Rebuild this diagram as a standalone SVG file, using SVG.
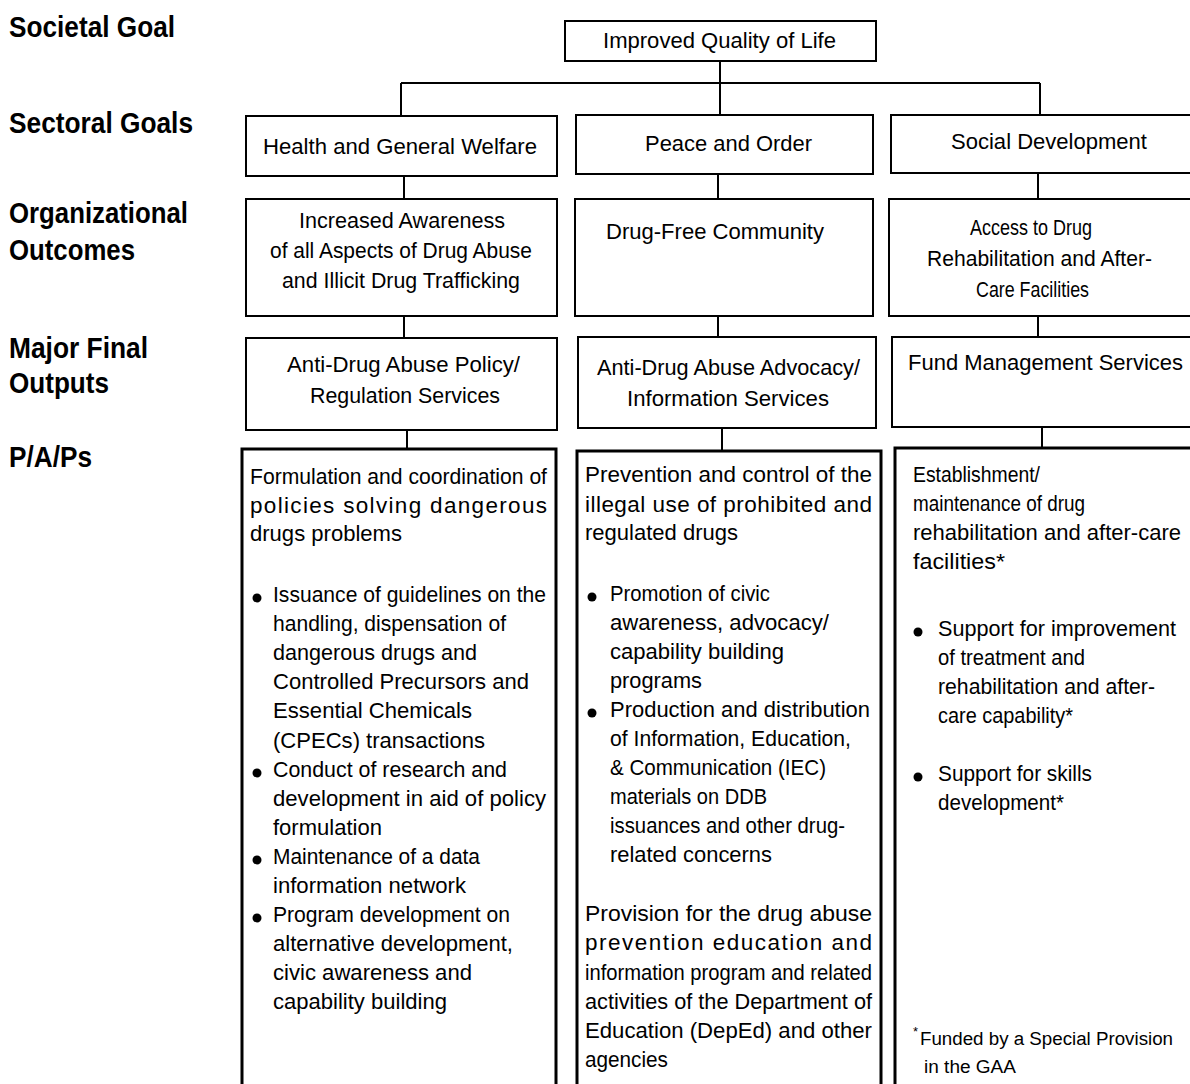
<svg xmlns="http://www.w3.org/2000/svg" width="1190" height="1084" viewBox="0 0 1190 1084">
<style>
.box{fill:#fff;stroke:#000;stroke-width:2}
.pap{fill:#fff;stroke:#000;stroke-width:3}
.ln{stroke:#000;stroke-width:2;fill:none}
text{font-family:"Liberation Sans",Arial,sans-serif;fill:#000}
.lbl{font-size:29px;font-weight:bold}
.t{font-size:22.5px}
.fn{font-size:18px}
.sup{font-size:13px}
</style>
<rect width="1190" height="1084" fill="#fff"/>
<g id="labels">
<text class="lbl" x="9" y="37" textLength="166" lengthAdjust="spacingAndGlyphs">Societal Goal</text>
<text class="lbl" x="9" y="133" textLength="184" lengthAdjust="spacingAndGlyphs">Sectoral Goals</text>
<text class="lbl" x="9" y="223" textLength="179" lengthAdjust="spacingAndGlyphs">Organizational</text>
<text class="lbl" x="9" y="260" textLength="126" lengthAdjust="spacingAndGlyphs">Outcomes</text>
<text class="lbl" x="9" y="358" textLength="139" lengthAdjust="spacingAndGlyphs">Major Final</text>
<text class="lbl" x="9" y="393" textLength="100" lengthAdjust="spacingAndGlyphs">Outputs</text>
<text class="lbl" x="9" y="467" textLength="83" lengthAdjust="spacingAndGlyphs">P/A/Ps</text>
</g>
<g id="connectors">
<path class="ln" d="M720 61V83M401 83H1040M401 83V116M720 83V115M1040 83V115"/>
<path class="ln" d="M404 176V199M718 174V199M1038 173V199"/>
<path class="ln" d="M404 316V338M718 316V337M1038 316V337"/>
<path class="ln" d="M407 430V449M722 428V451M1042 427V448"/>
</g>
<g id="societal">
<rect class="box" x="565" y="21" width="311" height="40"/>
<text class="t" x="603" y="48" textLength="233" lengthAdjust="spacingAndGlyphs">Improved Quality of Life</text>
</g>
<g id="sector-health">
<rect class="box" x="246" y="116" width="311" height="60"/>
<text class="t" x="263" y="154" textLength="274" lengthAdjust="spacingAndGlyphs">Health and General Welfare</text>
</g>
<g id="sector-peace">
<rect class="box" x="576" y="115" width="297" height="59"/>
<text class="t" x="645" y="151" textLength="167" lengthAdjust="spacingAndGlyphs">Peace and Order</text>
</g>
<g id="sector-social">
<rect class="box" x="891" y="115" width="304" height="58"/>
<text class="t" x="951" y="149" textLength="196" lengthAdjust="spacingAndGlyphs">Social Development</text>
</g>
<g id="outcome-awareness">
<rect class="box" x="246" y="199" width="311" height="117"/>
<text class="t" x="299" y="228" textLength="206" lengthAdjust="spacingAndGlyphs">Increased Awareness</text>
<text class="t" x="270" y="258" textLength="262" lengthAdjust="spacingAndGlyphs">of all Aspects of Drug Abuse</text>
<text class="t" x="282" y="288" textLength="238" lengthAdjust="spacingAndGlyphs">and Illicit Drug Trafficking</text>
</g>
<g id="outcome-drugfree">
<rect class="box" x="575" y="199" width="298" height="117"/>
<text class="t" x="606" y="239" textLength="218" lengthAdjust="spacingAndGlyphs">Drug-Free Community</text>
</g>
<g id="outcome-access">
<rect class="box" x="889" y="199" width="306" height="117"/>
<text class="t" x="970" y="235" textLength="122" lengthAdjust="spacingAndGlyphs">Access to Drug</text>
<text class="t" x="927" y="266" textLength="225" lengthAdjust="spacingAndGlyphs">Rehabilitation and After-</text>
<text class="t" x="976" y="297" textLength="113" lengthAdjust="spacingAndGlyphs">Care Facilities</text>
</g>
<g id="mfo-policy">
<rect class="box" x="246" y="338" width="311" height="92"/>
<text class="t" x="287" y="372" textLength="233" lengthAdjust="spacingAndGlyphs">Anti-Drug Abuse Policy/</text>
<text class="t" x="310" y="403" textLength="190" lengthAdjust="spacingAndGlyphs">Regulation Services</text>
</g>
<g id="mfo-advocacy">
<rect class="box" x="578" y="337" width="298" height="91"/>
<text class="t" x="597" y="375" textLength="263" lengthAdjust="spacingAndGlyphs">Anti-Drug Abuse Advocacy/</text>
<text class="t" x="627" y="406" textLength="202" lengthAdjust="spacingAndGlyphs">Information Services</text>
</g>
<g id="mfo-fund">
<rect class="box" x="892" y="337" width="303" height="90"/>
<text class="t" x="908" y="370" textLength="275" lengthAdjust="spacingAndGlyphs">Fund Management Services</text>
</g>
<g id="pap-policy">
<rect class="pap" x="242" y="449" width="314" height="645"/>
<text class="t" x="250" y="484" textLength="297" lengthAdjust="spacingAndGlyphs">Formulation and coordination of</text>
<text class="t" x="250" y="513" textLength="297" lengthAdjust="spacing">policies solving dangerous</text>
<text class="t" x="250" y="541" textLength="152" lengthAdjust="spacingAndGlyphs">drugs problems</text>
<circle cx="257" cy="598" r="4.5"/>
<circle cx="257" cy="773" r="4.5"/>
<circle cx="257" cy="860" r="4.5"/>
<circle cx="257" cy="918" r="4.5"/>
<text class="t" x="273" y="602" textLength="273" lengthAdjust="spacingAndGlyphs">Issuance of guidelines on the</text>
<text class="t" x="273" y="631" textLength="233" lengthAdjust="spacingAndGlyphs">handling, dispensation of</text>
<text class="t" x="273" y="660" textLength="204" lengthAdjust="spacingAndGlyphs">dangerous drugs and</text>
<text class="t" x="273" y="689" textLength="256" lengthAdjust="spacingAndGlyphs">Controlled Precursors and</text>
<text class="t" x="273" y="718" textLength="199" lengthAdjust="spacingAndGlyphs">Essential Chemicals</text>
<text class="t" x="273" y="748" textLength="212" lengthAdjust="spacingAndGlyphs">(CPECs) transactions</text>
<text class="t" x="273" y="777" textLength="234" lengthAdjust="spacingAndGlyphs">Conduct of research and</text>
<text class="t" x="273" y="806" textLength="273" lengthAdjust="spacingAndGlyphs">development in aid of policy</text>
<text class="t" x="273" y="835" textLength="109" lengthAdjust="spacingAndGlyphs">formulation</text>
<text class="t" x="273" y="864" textLength="207" lengthAdjust="spacingAndGlyphs">Maintenance of a data</text>
<text class="t" x="273" y="893" textLength="193" lengthAdjust="spacingAndGlyphs">information network</text>
<text class="t" x="273" y="922" textLength="237" lengthAdjust="spacingAndGlyphs">Program development on</text>
<text class="t" x="273" y="951" textLength="240" lengthAdjust="spacingAndGlyphs">alternative development,</text>
<text class="t" x="273" y="980" textLength="199" lengthAdjust="spacingAndGlyphs">civic awareness and</text>
<text class="t" x="273" y="1009" textLength="174" lengthAdjust="spacingAndGlyphs">capability building</text>
</g>
<g id="pap-prevention">
<rect class="pap" x="577" y="451" width="304" height="643"/>
<text class="t" x="585" y="482" textLength="287" lengthAdjust="spacingAndGlyphs">Prevention and control of the</text>
<text class="t" x="585" y="512" textLength="287" lengthAdjust="spacing">illegal use of prohibited and</text>
<text class="t" x="585" y="540" textLength="153" lengthAdjust="spacingAndGlyphs">regulated drugs</text>
<circle cx="592" cy="597" r="4.5"/>
<circle cx="592" cy="713" r="4.5"/>
<text class="t" x="610" y="601" textLength="160" lengthAdjust="spacingAndGlyphs">Promotion of civic</text>
<text class="t" x="610" y="630" textLength="219" lengthAdjust="spacingAndGlyphs">awareness, advocacy/</text>
<text class="t" x="610" y="659" textLength="174" lengthAdjust="spacingAndGlyphs">capability building</text>
<text class="t" x="610" y="688" textLength="92" lengthAdjust="spacingAndGlyphs">programs</text>
<text class="t" x="610" y="717" textLength="260" lengthAdjust="spacingAndGlyphs">Production and distribution</text>
<text class="t" x="610" y="746" textLength="241" lengthAdjust="spacingAndGlyphs">of Information, Education,</text>
<text class="t" x="610" y="775" textLength="216" lengthAdjust="spacingAndGlyphs">&amp; Communication (IEC)</text>
<text class="t" x="610" y="804" textLength="157" lengthAdjust="spacingAndGlyphs">materials on DDB</text>
<text class="t" x="610" y="833" textLength="235" lengthAdjust="spacingAndGlyphs">issuances and other drug-</text>
<text class="t" x="610" y="862" textLength="162" lengthAdjust="spacingAndGlyphs">related concerns</text>
<text class="t" x="585" y="921" textLength="287" lengthAdjust="spacingAndGlyphs">Provision for the drug abuse</text>
<text class="t" x="585" y="950" textLength="287" lengthAdjust="spacing">prevention education and</text>
<text class="t" x="585" y="980" textLength="287" lengthAdjust="spacingAndGlyphs">information program and related</text>
<text class="t" x="585" y="1009" textLength="287" lengthAdjust="spacingAndGlyphs">activities of the Department of</text>
<text class="t" x="585" y="1038" textLength="287" lengthAdjust="spacingAndGlyphs">Education (DepEd) and other</text>
<text class="t" x="585" y="1067" textLength="83" lengthAdjust="spacingAndGlyphs">agencies</text>
</g>
<g id="pap-facilities">
<rect class="pap" x="895" y="448" width="300" height="646"/>
<text class="t" x="913" y="482" textLength="127" lengthAdjust="spacingAndGlyphs">Establishment/</text>
<text class="t" x="913" y="511" textLength="172" lengthAdjust="spacingAndGlyphs">maintenance of drug</text>
<text class="t" x="913" y="540" textLength="268" lengthAdjust="spacingAndGlyphs">rehabilitation and after-care</text>
<text class="t" x="913" y="569" textLength="92" lengthAdjust="spacingAndGlyphs">facilities*</text>
<circle cx="918" cy="632" r="4.5"/>
<circle cx="918" cy="777" r="4.5"/>
<text class="t" x="938" y="636" textLength="238" lengthAdjust="spacingAndGlyphs">Support for improvement</text>
<text class="t" x="938" y="665" textLength="147" lengthAdjust="spacingAndGlyphs">of treatment and</text>
<text class="t" x="938" y="694" textLength="217" lengthAdjust="spacingAndGlyphs">rehabilitation and after-</text>
<text class="t" x="938" y="723" textLength="135" lengthAdjust="spacingAndGlyphs">care capability*</text>
<text class="t" x="938" y="781" textLength="154" lengthAdjust="spacingAndGlyphs">Support for skills</text>
<text class="t" x="938" y="810" textLength="126" lengthAdjust="spacingAndGlyphs">development*</text>
<text class="sup" x="913" y="1036">*</text>
<text class="fn" x="920" y="1045" textLength="253" lengthAdjust="spacingAndGlyphs">Funded by a Special Provision</text>
<text class="fn" x="924" y="1073" textLength="92" lengthAdjust="spacingAndGlyphs">in the GAA</text>
</g>
</svg>
